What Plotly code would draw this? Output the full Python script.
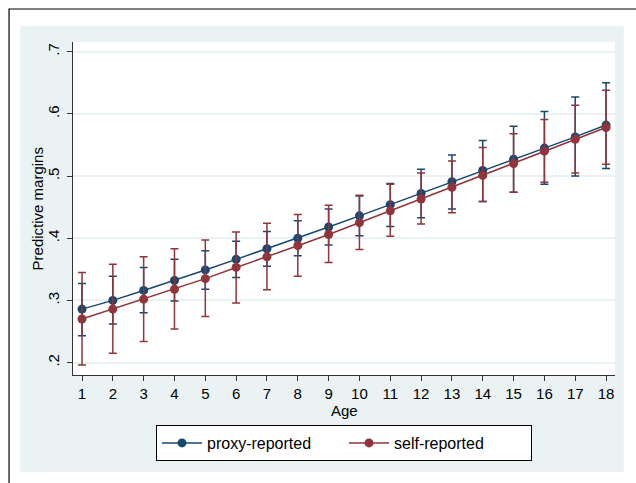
import plotly.graph_objects as go

ages = list(range(1, 19))

proxy_mean = [0.286, 0.300, 0.316, 0.332, 0.349, 0.366, 0.383, 0.400, 0.418,
              0.436, 0.454, 0.472, 0.491, 0.509, 0.527, 0.545, 0.563, 0.582]
proxy_upper = [0.327, 0.339, 0.353, 0.366, 0.380, 0.395, 0.411, 0.428, 0.447,
               0.468, 0.488, 0.511, 0.534, 0.557, 0.580, 0.604, 0.627, 0.650]
proxy_lower = [0.243, 0.262, 0.280, 0.299, 0.318, 0.337, 0.355, 0.372, 0.389,
               0.404, 0.419, 0.433, 0.447, 0.459, 0.474, 0.487, 0.500, 0.512]

self_mean = [0.270, 0.286, 0.302, 0.318, 0.335, 0.353, 0.370, 0.388, 0.406,
             0.425, 0.444, 0.463, 0.482, 0.501, 0.520, 0.540, 0.559, 0.578]
self_upper = [0.345, 0.358, 0.370, 0.383, 0.397, 0.410, 0.424, 0.438, 0.453,
              0.469, 0.487, 0.505, 0.524, 0.546, 0.568, 0.591, 0.614, 0.638]
self_lower = [0.196, 0.215, 0.234, 0.254, 0.274, 0.296, 0.317, 0.339, 0.361,
              0.382, 0.403, 0.423, 0.441, 0.459, 0.474, 0.490, 0.505, 0.519]

y_tickvals = [0.2, 0.3, 0.4, 0.5, 0.6, 0.7]
y_ticktext = [".2", ".3", ".4", ".5", ".6", ".7"]

NAVY = "#1a476f"
MAROON = "#90353b"
FONT = "Liberation Sans, Arial, sans-serif"


def series(name, mean, upper, lower, color):
    return go.Scatter(
        x=ages, y=mean, name=name, mode="lines+markers",
        line=dict(color=color, width=1.5),
        marker=dict(color=color, size=9),
        error_y=dict(type="data", symmetric=False,
                     array=[u - m for u, m in zip(upper, mean)],
                     arrayminus=[m - l for m, l in zip(mean, lower)],
                     color=color, thickness=1.5, width=4),
    )


fig = go.Figure()
fig.add_trace(series("proxy-reported", proxy_mean, proxy_upper, proxy_lower, NAVY))
fig.add_trace(series("self-reported", self_mean, self_upper, self_lower, MAROON))

# plot area: x 72.6..615, y 42..375 (px)
L, R, T, B = 72.6, 615.0, 42.0, 375.0
W, H = R - L, B - T


def px(x):
    return (x - L) / W


def py(y):
    return (B - y) / H


shapes = [
    dict(type="rect", xref="paper", yref="paper", layer="below",
         x0=px(8.6), x1=px(660), y0=py(500), y1=py(9),
         line=dict(color="#000000", width=1.2), fillcolor="#ffffff"),
    dict(type="rect", xref="paper", yref="paper", layer="below",
         x0=px(19.6), x1=px(623.7), y0=py(472), y1=py(26),
         line=dict(width=0), fillcolor="#eaf2f3"),
    dict(type="rect", xref="paper", yref="paper", layer="below",
         x0=0, x1=1, y0=0, y1=1,
         line=dict(width=0), fillcolor="#ffffff"),
]

annotations = [
    dict(text="Predictive margins", xref="paper", yref="paper",
         x=px(37), y=py(209), xanchor="center", yanchor="middle",
         textangle=-90, showarrow=False, font=dict(family=FONT, size=15)),
    dict(text="Age", xref="paper", yref="paper",
         x=0.5, y=py(410), xanchor="center", yanchor="middle",
         showarrow=False, font=dict(family=FONT, size=15)),
]

fig.update_layout(
    width=636, height=483,
    margin=dict(l=L, r=636 - R, t=T, b=483 - B, autoexpand=False),
    paper_bgcolor="#ffffff",
    plot_bgcolor="#ffffff",
    font=dict(family=FONT, size=15, color="#000000"),
    shapes=shapes,
    annotations=annotations,
    showlegend=True,
    legend=dict(orientation="h", x=0.5, xanchor="center",
                y=py(425), yanchor="top",
                bgcolor="#ffffff", bordercolor="#000000", borderwidth=1,
                font=dict(family=FONT, size=16), itemwidth=40,
                entrywidth=132, entrywidthmode="pixels",
                traceorder="normal"),
)

fig.update_xaxes(
    range=[0.708, 18.29], tickvals=ages, ticks="outside", ticklen=5,
    tickcolor="#333333", showline=True, linecolor="#333333", linewidth=1,
    showgrid=False, zeroline=False, automargin=False,
    tickfont=dict(size=15),
)
fig.update_yaxes(
    range=[0.180, 0.7156], tickvals=y_tickvals, ticktext=y_ticktext,
    tickangle=-90, ticks="outside", ticklen=5, tickcolor="#333333",
    showline=True, linecolor="#333333", linewidth=1,
    showgrid=True, gridcolor="#eaf2f3", gridwidth=1.5, zeroline=False,
    automargin=False, ticklabelstandoff=2,
    tickfont=dict(size=15),
)

fig.write_html(
    "out.html",
    config={"displayModeBar": False, "responsive": False},
    post_script="document.body.style.margin='0';document.body.style.overflow='hidden';",
)
